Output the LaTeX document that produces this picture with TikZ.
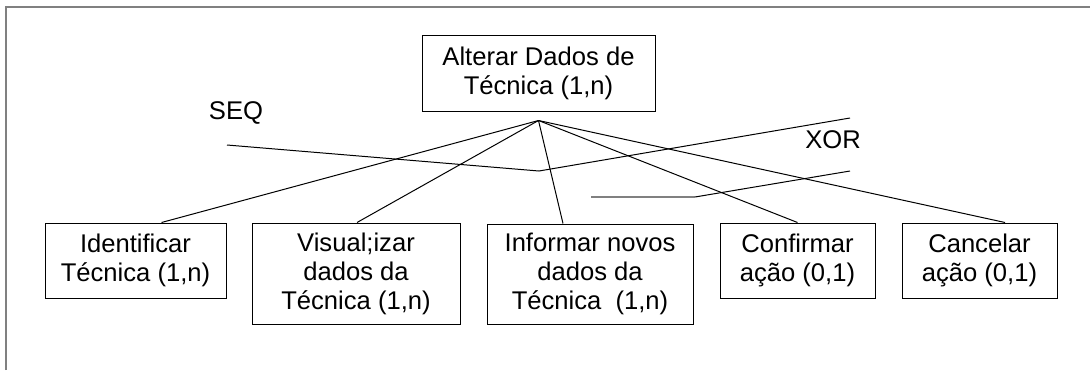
\documentclass[tikz,border=0pt]{standalone}
\usepackage{fontspec}
\setmainfont{Liberation Sans}
\begin{document}
\begin{tikzpicture}[x=1pt,y=-1pt,task/.style={draw,line width=1pt,fill=white,align=center,inner sep=0pt,font=\fontsize{25.6}{29}\selectfont},link/.style={line width=1pt},oplabel/.style={anchor=base,inner sep=0pt,font=\fontsize{25.6}{29}\selectfont}]
\useasboundingbox (0,0) rectangle (1090,370);
\draw[line width=2pt,gray] (6,370) -- (6,7) -- (1090,7);
\node[task,minimum width=233pt,minimum height=76pt] (top) at (538.5,73) {Alterar Dados de\\Técnica (1,n)};
\node[task,minimum width=181pt,minimum height=75pt] (t1) at (135.5,260.5) {Identificar\\Técnica (1,n)};
\node[task,minimum width=208pt,minimum height=101pt] (t2) at (356,273.5) {Visual;izar\\dados da\\Técnica (1,n)};
\node[task,minimum width=206pt,minimum height=100pt] (t3) at (590,274) {Informar novos\\dados da\\Técnica~ (1,n)};
\node[task,minimum width=155pt,minimum height=75pt] (t4) at (797.5,260.5) {Confirmar\\ação (0,1)};
\node[task,minimum width=155pt,minimum height=75pt] (t5) at (979.5,260.5) {Cancelar\\ação (0,1)};
\coordinate (hub) at ([yshift=-9pt]top.south);
\draw[link] (hub) -- ([xshift=26pt]t1.north);
\draw[link] (hub) -- ([xshift=1pt]t2.north);
\draw[link] (hub) -- ([xshift=-27pt]t3.north);
\draw[link] (hub) -- (t4.north);
\draw[link] (hub) -- ([xshift=25.5pt]t5.north);
% operators
\coordinate (seqL) at (227,145);
\coordinate (seqM) at (539,171);
\coordinate (xorR) at (850,118);
\coordinate (xorL) at (591,197);
\coordinate (xorK) at (695,197);
\coordinate (xorS) at (850,171);
\draw[link] (seqL) -- (seqM) -- (xorR);
\draw[line width=1.5pt,gray] (xorL) -- (xorK);
\draw[link] (xorK) -- (xorS);
\node[oplabel] (seq) at (236,119) {SEQ};
\node[oplabel] (xor) at (833,148) {XOR};
\end{tikzpicture}
\end{document}
